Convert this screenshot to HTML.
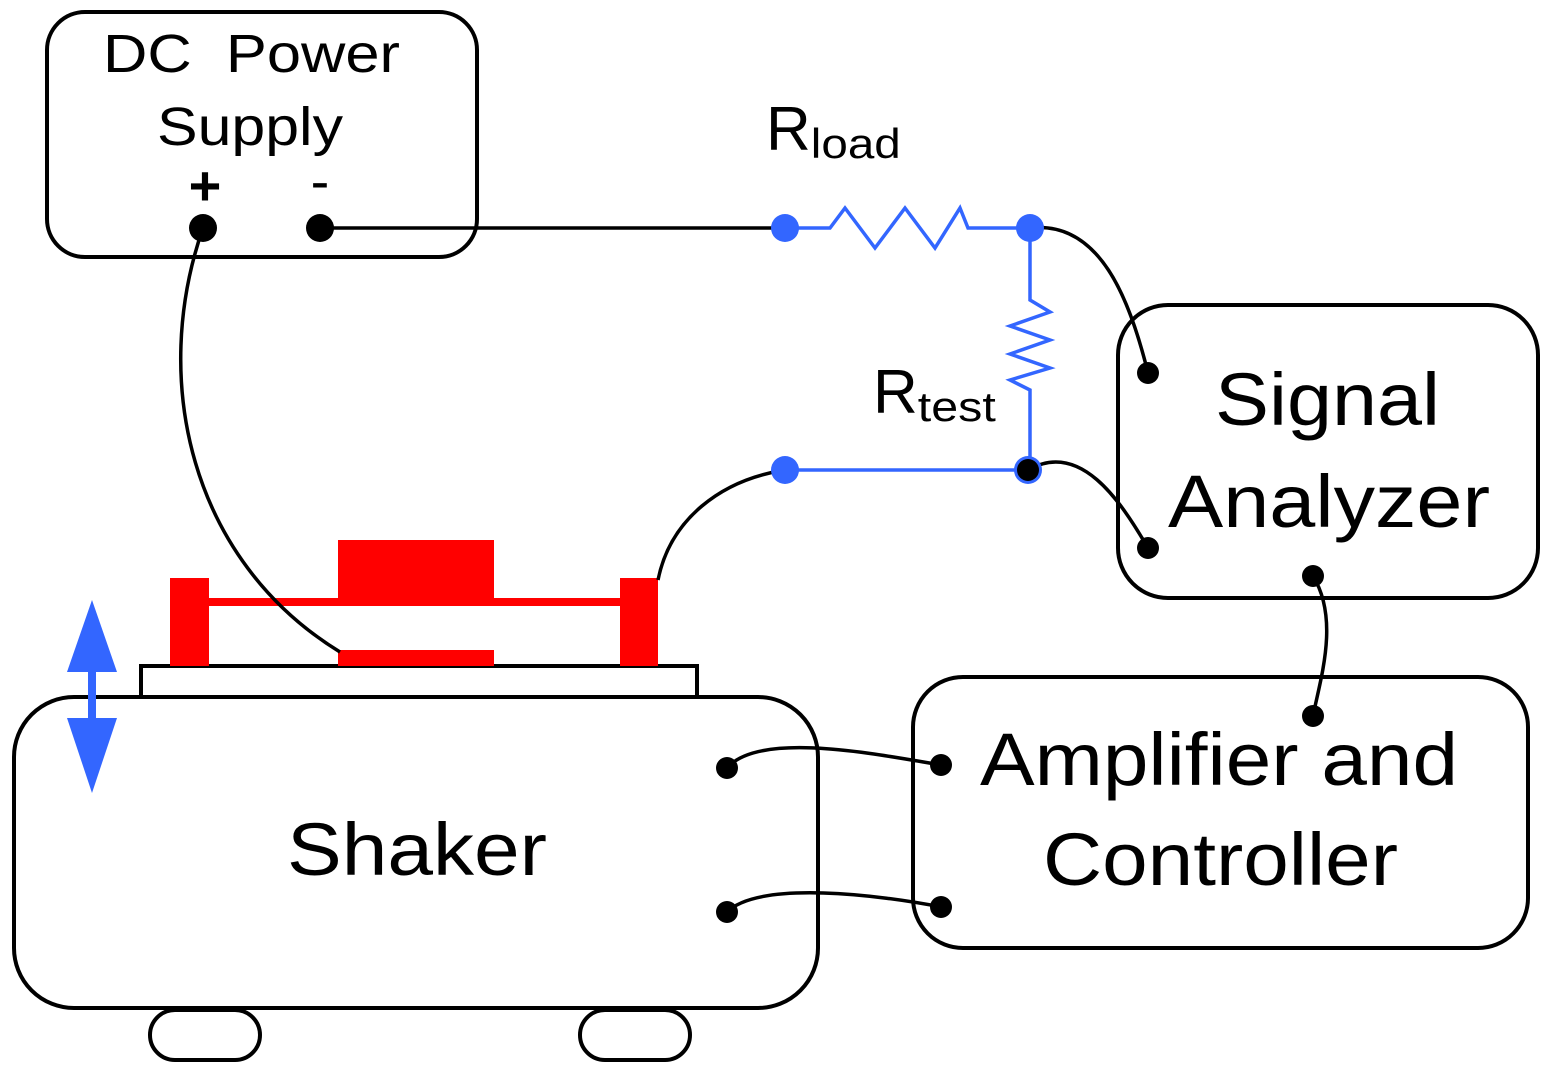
<!DOCTYPE html>
<html><head><meta charset="utf-8"><style>html,body{margin:0;padding:0;background:#fff}svg{display:block}</style></head>
<body>
<svg width="1553" height="1075" viewBox="0 0 1553 1075" xmlns="http://www.w3.org/2000/svg" font-family="Liberation Sans, sans-serif">
<g fill="none" stroke="#000" stroke-width="4">
<rect x="47" y="12" width="430" height="245" rx="38"/>
<rect x="1118" y="305" width="420" height="293" rx="50"/>
<rect x="913" y="677" width="615" height="271" rx="50"/>
<rect x="14" y="697" width="804" height="311" rx="60"/>
<rect x="150" y="1010" width="110" height="50" rx="25"/>
<rect x="580" y="1010" width="110" height="50" rx="25"/>
<rect x="141" y="666" width="556" height="31" fill="#fff"/>
</g>
<g fill="#f00">
<rect x="170" y="578" width="39" height="88"/>
<rect x="620" y="578" width="38" height="88"/>
<rect x="209" y="598" width="411" height="8"/>
<rect x="338" y="540" width="156" height="66"/>
<rect x="338" y="650" width="156" height="16"/>
</g>
<g fill="none" stroke="#000" stroke-width="3.5">
<line x1="320" y1="228" x2="785" y2="228"/>
<path d="M203,228 C150,380 190,560 340,652"/>
<path d="M658,580 C670,520 720,480 785,470"/>
<path d="M1030,228 C1100,220 1130,300 1148,373"/>
<path d="M1028,470 C1080,440 1120,500 1148,548"/>
<path d="M1313,576 C1340,620 1320,680 1313,716"/>
<path d="M727,768 C760,730 880,755 941,765"/>
<path d="M727,912 C760,880 880,895 941,907"/>
</g>
<g fill="none" stroke="#3366ff" stroke-width="3.5">
<polyline points="785,228 830,228 845,208 875,248 905,208 935,248 960,208 968,228 1030,228"/>
<polyline points="1030,228 1030,300 1050,312 1010,326 1050,340 1010,354 1050,368 1010,380 1030,390 1030,470"/>
<line x1="785" y1="470" x2="1028" y2="470"/>
</g>
<g fill="#3366ff">
<circle cx="785" cy="228" r="14"/>
<circle cx="1030" cy="228" r="14"/>
<circle cx="785" cy="470" r="14"/>
<circle cx="1028" cy="470" r="14"/>
</g>
<g fill="#000">
<circle cx="1028" cy="470" r="11"/>
<circle cx="203" cy="228" r="14"/>
<circle cx="320" cy="228" r="14"/>
<circle cx="1148" cy="373" r="11"/>
<circle cx="1148" cy="548" r="11"/>
<circle cx="1313" cy="576" r="11"/>
<circle cx="1313" cy="716" r="11"/>
<circle cx="941" cy="765" r="11"/>
<circle cx="941" cy="907" r="11"/>
<circle cx="727" cy="768" r="11"/>
<circle cx="727" cy="912" r="11"/>
</g>
<g fill="#3366ff">
<rect x="88" y="640" width="8" height="110"/>
<polygon points="92,600 67,672 117,672"/>
<polygon points="92,793 67,718 117,718"/>
</g>
<g fill="#000">
<text x="103" y="72" font-size="54" textLength="297" lengthAdjust="spacingAndGlyphs" xml:space="preserve">DC  Power</text>
<text x="157" y="145" font-size="54" textLength="186" lengthAdjust="spacingAndGlyphs">Supply</text>
<text x="205" y="205" font-size="56" text-anchor="middle" font-weight="bold">+</text>
<text x="320" y="200" font-size="56" text-anchor="middle">-</text>
<text x="1215" y="425" font-size="74" textLength="225" lengthAdjust="spacingAndGlyphs">Signal</text>
<text x="1168" y="527" font-size="74" textLength="322" lengthAdjust="spacingAndGlyphs">Analyzer</text>
<text x="980" y="785" font-size="74" textLength="478" lengthAdjust="spacingAndGlyphs">Amplifier and</text>
<text x="1043" y="885" font-size="74" textLength="355" lengthAdjust="spacingAndGlyphs">Controller</text>
<text x="287" y="875" font-size="74" textLength="260" lengthAdjust="spacingAndGlyphs">Shaker</text>
</g>
<text x="766" y="150" font-size="62">R<tspan font-size="42" dy="8" textLength="90" lengthAdjust="spacingAndGlyphs">load</tspan></text>
<text x="873" y="413" font-size="62">R<tspan font-size="42" dy="8" textLength="78" lengthAdjust="spacingAndGlyphs">test</tspan></text>
</svg>
</body></html>
